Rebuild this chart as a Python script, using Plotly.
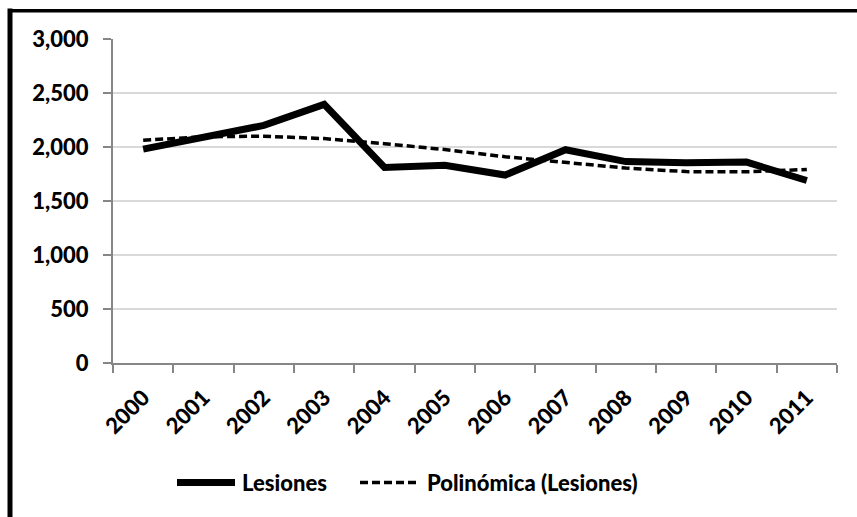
import plotly.graph_objects as go

years = ["2000", "2001", "2002", "2003", "2004", "2005", "2006", "2007", "2008", "2009", "2010", "2011"]
lesiones = [1980, 2085, 2200, 2395, 1810, 1830, 1740, 1975, 1865, 1855, 1860, 1690]
polinomica = [2062, 2095, 2100, 2078, 2031, 1976, 1910, 1856, 1805, 1772, 1770, 1792]
y_ticks = [0, 500, 1000, 1500, 2000, 2500, 3000]

W, H = 857, 517
L, R, T, B = 113, 837, 39, 363.3
FONT = "Lato"
FS = 22
WT = 900


def px(x):
    return (x - L) / (R - L)


def py(y):
    return (B - y) / (B - T)


fig = go.Figure()
fig.add_trace(go.Scatter(x=years, y=polinomica, mode="lines", name="Polinómica (Lesiones)",
                         line=dict(color="black", width=3.5, dash="8px,4px"), showlegend=False))
fig.add_trace(go.Scatter(x=years, y=lesiones, mode="lines", name="Lesiones",
                         line=dict(color="black", width=7), showlegend=False))

shapes = [
    dict(type="line", xref="paper", yref="paper", x0=px(10), x1=px(10), y0=py(8.5), y1=py(530),
         line=dict(color="black", width=5)),
    dict(type="line", xref="paper", yref="paper", x0=px(8), x1=px(870), y0=py(10.7), y1=py(10.7),
         line=dict(color="black", width=3.5)),
    dict(type="line", xref="paper", yref="paper", x0=px(177), x1=px(235), y0=py(483), y1=py(483),
         line=dict(color="black", width=7)),
    dict(type="line", xref="paper", yref="paper", x0=px(360), x1=px(418), y0=py(483), y1=py(483),
         line=dict(color="black", width=3.5, dash="8px,4px")),
]
annotations = [
    dict(text="Lesiones", xref="paper", yref="paper", x=px(240), y=py(483),
         xanchor="left", yanchor="middle", showarrow=False,
         font=dict(family=FONT, size=FS, color="black", weight=WT)),
    dict(text="Polinómica (Lesiones)", xref="paper", yref="paper", x=px(425), y=py(483),
         xanchor="left", yanchor="middle", showarrow=False,
         font=dict(family=FONT, size=FS, color="black", weight=WT)),
]

fig.update_layout(
    width=W, height=H,
    margin=dict(l=L, r=W - R, t=T, b=H - B, pad=0),
    paper_bgcolor="white", plot_bgcolor="white",
    font=dict(family=FONT, size=FS, color="black"),
    shapes=shapes, annotations=annotations,
    showlegend=False,
)
fig.update_xaxes(
    type="category", range=[-0.5, 11.5], tickangle=-45,
    showline=True, linecolor="#868686", linewidth=2,
    ticks="outside", ticklen=8, tickcolor="#868686", tickwidth=2, tickson="boundaries",
    showgrid=False, tickfont=dict(family=FONT, size=FS, color="black", weight=WT),
    ticklabelstandoff=11,
)
fig.update_yaxes(
    range=[0, 3000], tickvals=y_ticks, tickformat=",d",
    showline=True, linecolor="#868686", linewidth=2,
    ticks="outside", ticklen=8, tickcolor="#868686", tickwidth=2,
    showgrid=True, gridcolor="#d9d9d9", gridwidth=2, zeroline=False,
    tickfont=dict(family=FONT, size=FS, color="black", weight=WT),
    ticklabelstandoff=10,
)

fig.write_html(
    "out.html",
    config={"displayModeBar": False},
    post_script="document.body.style.margin='0';document.body.style.overflow='hidden';",
)
